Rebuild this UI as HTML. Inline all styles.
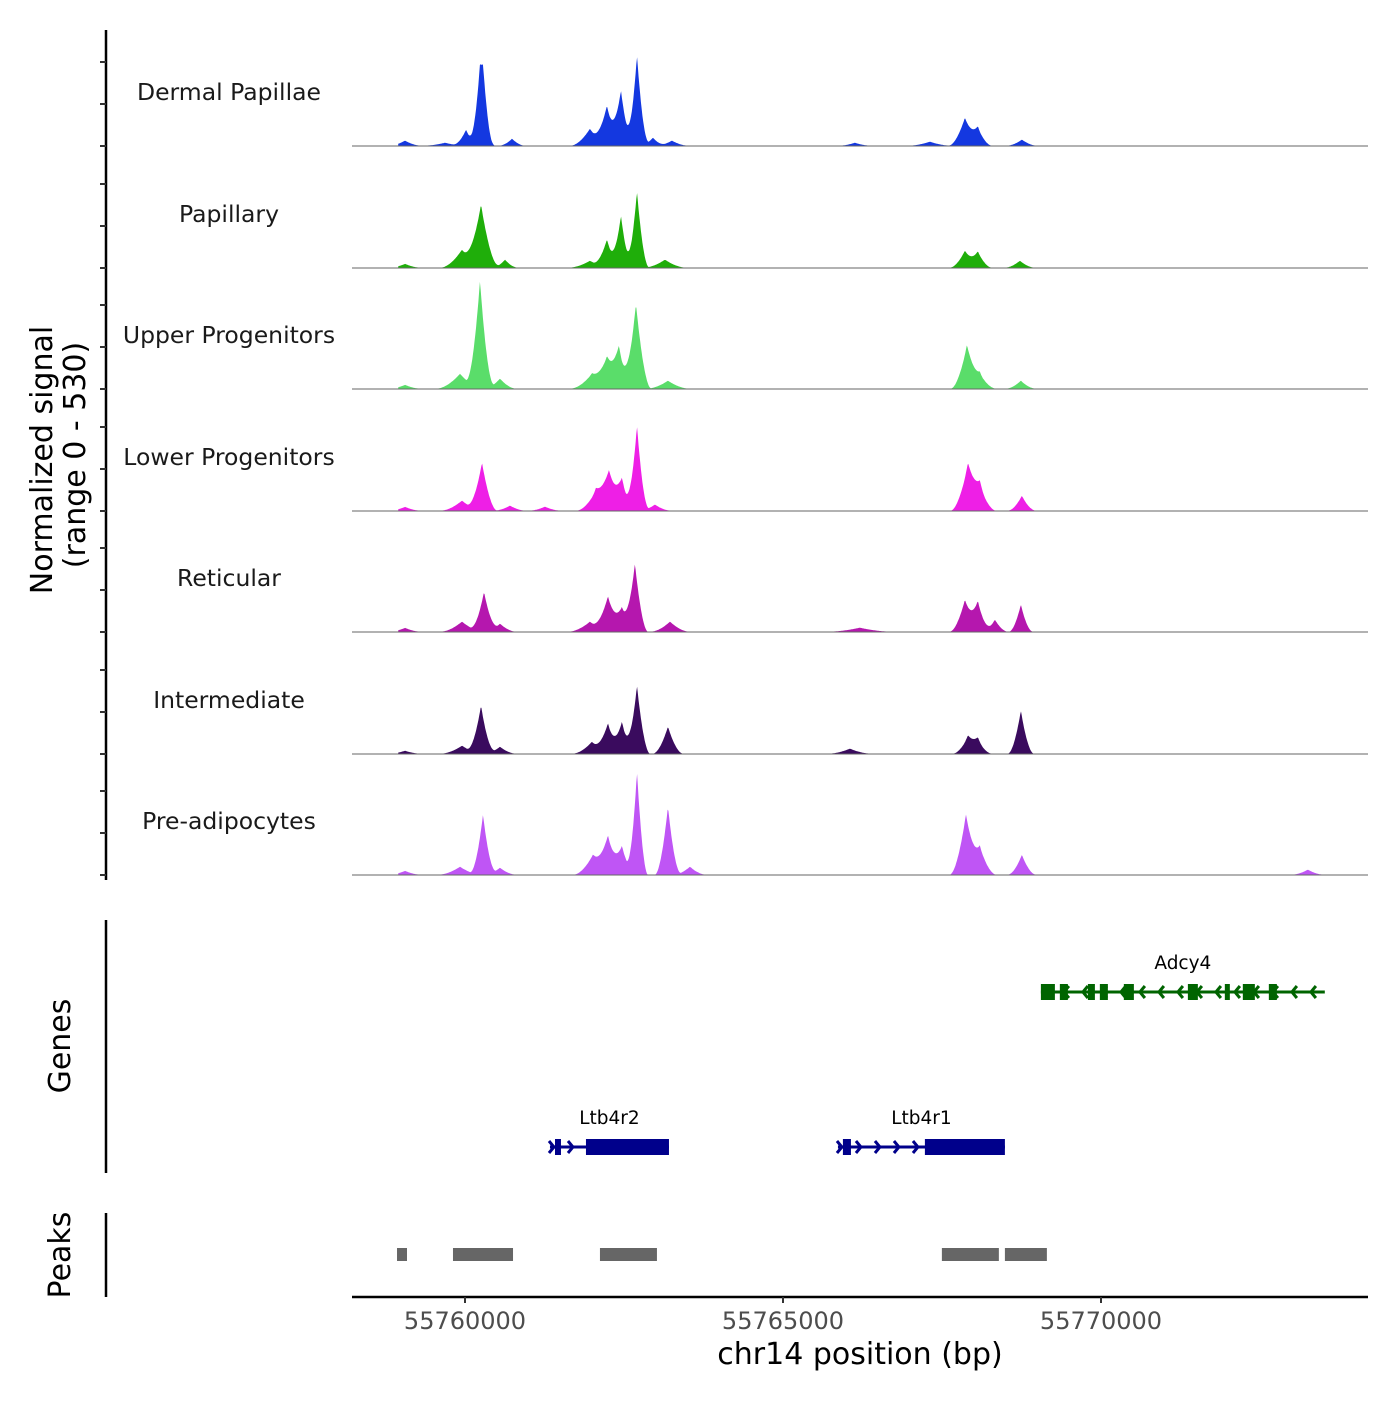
<!DOCTYPE html>
<html><head><meta charset="utf-8"><style>
body{margin:0;background:#fff}
svg text{font-family:"DejaVu Sans","Liberation Sans",sans-serif}
</style></head><body>
<svg id="c" width="1400" height="1400" xmlns="http://www.w3.org/2000/svg"></svg>
<script>
const trackNames=["Dermal Papillae","Papillary","Upper Progenitors","Lower Progenitors","Reticular","Intermediate","Pre-adipocytes"];
const trackColors=["#1438e0","#1fae0a","#5add6a","#ee1fe6","#b517ae","#3a0b5e","#bf55f5"];
// peaks per track: [center bp, height (signal units), halfwidth bp]
const dpPeaks=[[55759057,24,150],[55759686,14,200],[55760016,76,120],[55760236,250,110],[55760283,240,110],[55760739,33,120],[55761965,81,180],[55762232,190,140],[55762452,262,120],[55762704,429,110],[55762955,38,120],[55763254,24,150],[55766131,14,150],[55767310,19,200],[55767860,133,150],[55768064,86,130],[55768756,29,140]];
const papPeaks=[[55759057,18,150],[55759953,86,200],[55760252,300,170],[55760629,38,120],[55761965,33,200],[55762232,133,130],[55762452,248,110],[55762704,362,110],[55763144,38,200],[55767860,81,140],[55768064,76,130],[55768725,33,140]];
const uppPeaks=[[55759057,18,150],[55759921,71,220],[55760236,514,130],[55760550,48,150],[55761996,71,200],[55762232,143,160],[55762421,190,130],[55762688,405,140],[55763191,38,200],[55767892,205,150],[55768096,71,150],[55768740,38,140]];
const lowPeaks=[[55759057,18,150],[55759953,48,200],[55760267,229,140],[55760707,24,150],[55761258,19,150],[55762059,95,180],[55762264,181,160],[55762468,143,130],[55762704,405,110],[55762987,29,150],[55767908,219,160],[55768096,119,150],[55768756,71,130]];
const retPeaks=[[55759057,18,150],[55759953,48,200],[55760299,190,130],[55760550,38,150],[55761965,48,200],[55762248,167,150],[55762468,114,130],[55762672,324,120],[55763223,48,180],[55766209,19,300],[55767860,152,140],[55768064,143,130],[55768332,57,120],[55768740,129,110]];
const intPeaks=[[55759057,14,150],[55759953,38,200],[55760252,229,130],[55760550,33,150],[55761996,57,180],[55762248,143,140],[55762468,152,120],[55762704,324,120],[55763191,129,140],[55766052,24,200],[55767908,81,140],[55768064,67,130],[55768740,205,120]];
const prePeaks=[[55759057,18,150],[55759921,38,200],[55760283,286,120],[55760550,33,150],[55762012,95,180],[55762248,181,150],[55762468,133,130],[55762704,490,100],[55763191,324,120],[55763537,38,150],[55767876,286,150],[55768096,133,150],[55768756,95,130],[55773252,24,150]];
const allPeaks=[dpPeaks,papPeaks,uppPeaks,lowPeaks,retPeaks,intPeaks,prePeaks];
const xTicks=[55760000,55765000,55770000];
const yTicks=[0,200,400];
const genes=[
 {name:"Adcy4",start:55769055,end:55773519,strand:-1,row:0,color:"#006400",exons:[[55769055,55769275],[55769353,55769479],[55769794,55769904],[55769982,55770108],[55770359,55770517],[55771366,55771523],[55771947,55772026],[55772230,55772419],[55772639,55772765]]},
 {name:"Ltb4r2",start:55761336,end:55763207,strand:1,row:1,color:"#00008b",exons:[[55761415,55761509],[55761902,55763207]]},
 {name:"Ltb4r1",start:55765864,end:55768489,strand:1,row:1,color:"#00008b",exons:[[55765942,55766068],[55767231,55768489]]}];
const peakRegions=[[55758931,55759088],[55759811,55760755],[55762122,55763018],[55767498,55768394],[55768489,55769149]];

const NS="http://www.w3.org/2000/svg";
const svg=document.getElementById("c");
function mk(tag,attrs,parent){const e=document.createElementNS(NS,tag);for(const k in attrs)e.setAttribute(k,attrs[k]);(parent||svg).appendChild(e);return e;}
const X=bp=>465+(bp-55760000)*0.0636;
const Y=(v,base)=>base-v*0.21;
const baselines=[146,268,389,511,632,754,875];
const labelY=[92,214,335,457,578,700,821];

let ax=mk("line",{x1:106,y1:30,x2:106,y2:880,stroke:"#000","stroke-width":2.5});


baselines.forEach((b,i)=>{
 yTicks.forEach(t=>{const tk=mk("line",{x1:100,x2:106,y1:Y(t,b),y2:Y(t,b),stroke:"#333","stroke-width":2});
  
  });
 const lab=mk("text",{x:229,y:labelY[i]+8,"text-anchor":"middle","font-size":23.5,fill:"#1a1a1a"});
 lab.textContent=trackNames[i];
 
 
 const peaks=allPeaks[i];
 let d=`M${X(55758950)},${b}`;
 for(let p=55758950;p<=55773600;p+=12){
  let v=1.5;
  peaks.forEach(pk=>{const w=pk[2]*1.7;const dd=Math.abs(p-pk[0]);if(dd<w)v+=pk[1]*Math.pow(1-dd/w,1.8);});
  d+=`L${X(p).toFixed(1)},${Y(v,b).toFixed(1)}`;
 }
 d+=`L${X(55773600)},${b}Z`;
 const area=mk("path",{d:d,fill:trackColors[i]});
 
 
 const bl=mk("line",{x1:352,x2:1368,y1:b,y2:b,stroke:"#666","stroke-width":1});
 
 
});
const yt=mk("text",{transform:"translate(52,460) rotate(-90)","text-anchor":"middle","font-size":30,fill:"#000"});
yt.textContent="Normalized signal";


const yt2=mk("text",{transform:"translate(85,455) rotate(-90)","text-anchor":"middle","font-size":30,fill:"#000"});
yt2.textContent="(range 0 - 530)";



const ga=mk("line",{x1:106,y1:920,x2:106,y2:1173,stroke:"#000","stroke-width":2.5});


const gt=mk("text",{transform:"translate(70,1046) rotate(-90)","text-anchor":"middle","font-size":30,fill:"#000"});
gt.textContent="Genes";


const rowY=[992,1147];
genes.forEach(g=>{
 const y=rowY[g.row];
 const grp=mk("g",{});
 
 
 mk("line",{x1:X(g.start),x2:X(g.end),y1:y,y2:y,stroke:g.color,"stroke-width":3},grp);
 const step=19;
 for(let x=X(g.start)+4;x<=X(g.end)-2;x+=step){
  const s=g.strand, a=5;
  mk("polyline",{points:`${x-a*s},${y-6} ${x},${y} ${x-a*s},${y+6}`,fill:"none",stroke:g.color,"stroke-width":3},grp);
 }
 g.exons.forEach(e=>mk("rect",{x:X(e[0]),y:y-8,width:Math.max(3,X(e[1])-X(e[0])),height:16,fill:g.color},grp));
 const t=mk("text",{x:(X(g.start)+X(g.end))/2,y:y-23,"text-anchor":"middle","font-size":18.5,fill:"#000"},grp);
 t.textContent=g.name;
});

const pa=mk("line",{x1:106,y1:1213,x2:106,y2:1297,stroke:"#000","stroke-width":2.5});


const pt=mk("text",{transform:"translate(70,1255) rotate(-90)","text-anchor":"middle","font-size":30,fill:"#000"});
pt.textContent="Peaks";


peakRegions.forEach(r=>{const pr=mk("rect",{x:X(r[0]),y:1248,width:X(r[1])-X(r[0]),height:13,fill:"#666"});
 
 });

const xa=mk("line",{x1:352,x2:1368,y1:1297,y2:1297,stroke:"#000","stroke-width":2.5});


xTicks.forEach(t=>{
 const tk=mk("line",{x1:X(t),x2:X(t),y1:1297,y2:1303,stroke:"#333","stroke-width":2});
 
 
 const tl=mk("text",{x:X(t),y:1329,"text-anchor":"middle","font-size":24,fill:"#4d4d4d"});
 tl.textContent=String(t);
 
 
});
const xt=mk("text",{x:860,y:1364,"text-anchor":"middle","font-size":30,fill:"#000"});
xt.textContent="chr14 position (bp)";


</script>
</body></html>
